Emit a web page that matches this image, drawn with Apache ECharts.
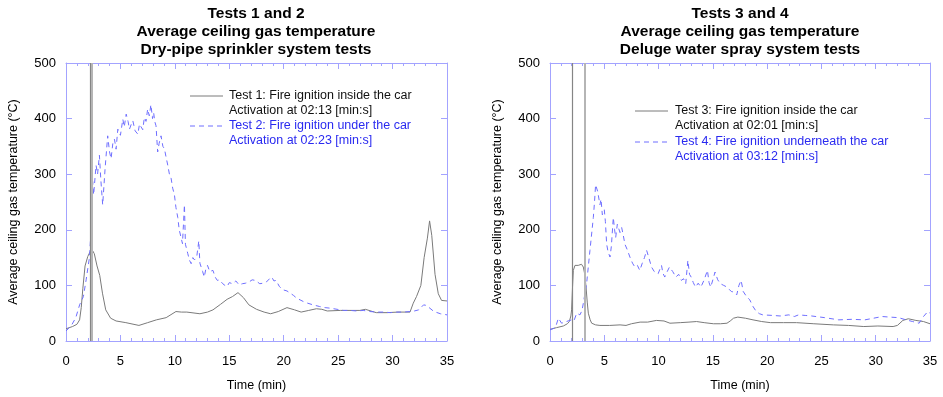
<!DOCTYPE html>
<html>
<head>
<meta charset="utf-8">
<script src="https://cdn.jsdelivr.net/npm/echarts@6/dist/echarts.min.js"></script>
<style>
  html, body { margin: 0; padding: 0; background: #fff; }
  #chart { width: 943px; height: 397px; }
</style>
</head>
<body>
<div id="chart"></div>
<script>
// time (min) / temperature (°C)
var test1 = [[0,22],[0.6,26],[1.0,30],[1.25,38],[1.4,60],[1.55,95],[1.75,135],[2.0,152],[2.2,160],[2.4,164],
  [2.6,157],[2.85,135],[3.1,118],[3.35,86],[3.65,56],[4.1,41],[4.6,36],[5.5,33],[6.7,28],[7.5,33],
  [8.3,38],[9.2,42],[10.1,53],[10.6,52],[11.1,52],[12.3,49],[13.0,52],[13.5,56],[14.2,66],[14.8,75],
  [15.3,80],[15.8,87],[16.3,78],[16.8,65],[17.5,57],[18.2,52],[18.8,49],[19.5,53],[20.3,60],[21.0,56],
  [21.6,52],[22.3,55],[23.0,58],[23.5,57],[24.0,54],[25.2,55],[26.0,55],[27.0,55],[27.5,57],[28.5,51],
  [29.5,51],[30.5,52],[31.6,52],[31.9,68],[32.2,80],[32.6,100],[32.9,150],[33.2,185],[33.4,216],[33.6,190],
  [33.9,120],[34.2,85],[34.5,73],[35,72]];

var test2 = [[0,18],[0.5,28],[0.9,42],[1.25,65],[1.6,80],[1.85,110],[2.15,150],[2.35,215],[2.45,287],[2.54,263],
  [2.76,316],[2.9,300],[3.07,334],[3.2,290],[3.37,245],[3.59,310],[3.83,369],[4.0,340],[4.14,328],[4.3,355],
  [4.45,363],[4.6,345],[4.76,381],[5.0,370],[5.22,399],[5.35,385],[5.53,408],[5.7,395],[5.83,381],[6.0,390],
  [6.14,396],[6.35,378],[6.6,372],[6.75,390],[6.9,393],[7.05,380],[7.2,402],[7.35,395],[7.5,417],[7.65,405],
  [7.8,425],[7.95,400],[8.05,411],[8.15,395],[8.27,387],[8.42,340],[8.55,355],[8.73,369],[8.9,350],[9.04,346],
  [9.2,330],[9.35,316],[9.5,300],[9.65,293],[9.8,275],[9.96,263],[10.1,240],[10.27,222],[10.4,200],[10.57,186],
  [10.7,175],[10.88,245],[10.97,174],[11.19,157],[11.35,145],[11.5,139],[11.65,150],[11.8,146],[12.0,150],[12.2,180],
  [12.3,140],[12.4,139],[12.55,125],[12.7,115],[12.85,130],[13.0,136],[13.2,125],[13.5,127],[13.7,115],[13.9,109],
  [14.1,110],[14.4,103],[14.6,100],[14.8,98],[15.0,105],[15.3,103],[15.6,108],[15.9,101],[16.2,103],[16.5,104],
  [16.8,106],[17.1,110],[17.4,109],[17.8,103],[18.1,104],[18.4,106],[18.7,112],[18.9,115],[19.1,108],[19.3,109],
  [19.6,98],[19.95,92],[20.3,90],[20.6,86],[20.9,82],[21.2,77],[21.5,74],[21.8,71],[22.2,68],[22.7,65],
  [23.3,62],[23.8,60],[24.3,59],[24.9,57],[25.5,55],[26.1,55],[26.7,54],[27.3,55],[27.9,53],[28.6,52],
  [29.2,52],[29.8,51],[30.4,52],[31.0,52],[31.6,53],[32.0,54],[32.4,56],[32.85,65],[33.1,64],[33.3,61],
  [33.8,53],[34.4,49],[35,47]];

var test3 = [[0,21],[0.6,24],[1.23,27],[1.6,31],[1.78,35],[1.92,45],[1.99,56],[2.07,95],[2.15,127],[2.3,136],
  [2.46,138],[2.6,136],[2.76,139],[2.9,138],[3.07,133],[3.2,120],[3.32,97],[3.43,70],[3.53,50],[3.7,38],
  [3.84,32],[4.2,29],[4.6,28],[5.5,28],[6.45,29],[7.0,28],[7.5,31],[8.3,34],[9.0,34],[9.8,37],
  [10.5,36],[11.05,32],[12.0,33],[12.8,34],[13.5,35],[14.2,33],[15.05,31],[15.7,31],[16.3,32],[16.6,36],
  [16.9,41],[17.3,43],[18.0,41],[18.7,38],[19.5,35],[20.3,33],[21.5,33],[22.7,33],[24.3,31],[26.1,29],
  [27.5,28],[28.9,26],[30.2,27],[31.6,26],[32.0,28],[32.5,37],[33.0,40],[33.7,37],[34.4,35],[35,31]];

var test4 = [[0,20],[0.5,24],[0.77,41],[1.07,32],[1.5,35],[2.0,38],[2.2,36],[2.46,50],[2.76,47],[2.95,55],
  [3.07,68],[3.37,103],[3.68,163],[3.99,222],[4.1,250],[4.2,281],[4.39,269],[4.6,245],[4.7,255],[4.82,227],
  [5.0,236],[5.1,215],[5.22,174],[5.35,160],[5.53,151],[5.65,170],[5.83,222],[5.95,200],[6.05,186],[6.2,210],
  [6.3,204],[6.45,195],[6.6,204],[6.75,190],[6.9,174],[7.1,165],[7.36,151],[7.6,140],[7.82,133],[8.05,136],
  [8.27,127],[8.5,140],[8.7,150],[8.9,163],[9.1,150],[9.35,133],[9.6,125],[9.96,121],[10.1,128],[10.27,136],
  [10.4,122],[10.57,115],[10.8,125],[11.0,133],[11.3,125],[11.6,115],[11.85,120],[12.1,109],[12.3,112],[12.5,103],
  [12.7,145],[12.85,120],[13.0,115],[13.2,105],[13.4,97],[13.65,104],[13.9,97],[14.2,110],[14.5,127],[14.65,105],
  [14.8,97],[15.0,110],[15.2,124],[15.45,110],[15.7,103],[16.0,100],[16.3,97],[16.5,93],[16.7,89],[16.95,88],
  [17.2,83],[17.4,100],[17.6,109],[17.8,89],[18.1,80],[18.4,74],[18.7,62],[19.0,53],[19.3,49],[19.6,47],
  [20.5,46],[21.2,45],[22.0,47],[22.5,44],[22.9,47],[23.5,46],[24.1,45],[25.3,42],[26.6,38],[27.8,39],
  [29.0,38],[29.8,41],[30.6,44],[31.3,43],[32.1,42],[32.8,38],[33.4,35],[34.0,32],[34.4,44],[34.8,53],[35,50]];

// sprinkler activation times (min)
var activationLeft = [2.217, 2.383];
var activationRight = [2.017, 3.2];

var xTicks = { min: 0, max: 35, interval: 5 };
var yTicks = { min: 0, max: 500, interval: 100 };

var FONT = '"Liberation Sans", Arial, sans-serif';
var FRAME = '#a3a3ff';
var GRAY = '#7a7a7a';
var BLUE_LINE = '#6e6eff';
var BLUE_TEXT = '#2a2af0';

var chart = echarts.init(document.getElementById('chart'));

function xAxisFor(gridIndex, top) {
  return {
    type: 'value', gridIndex: gridIndex, position: top ? 'top' : 'bottom',
    min: xTicks.min, max: xTicks.max, interval: xTicks.interval,
    name: top ? '' : 'Time (min)', nameLocation: 'middle', nameGap: 38,
    nameTextStyle: { fontFamily: FONT, fontSize: 12.5, color: '#000' },
    axisLine: { show: true, onZero: false, lineStyle: { color: FRAME, width: 1 } },
    axisTick: { show: true, inside: true, length: 6, lineStyle: { color: FRAME } },
    minorTick: { show: true, splitNumber: 5, length: 3, lineStyle: { color: FRAME } },
    axisLabel: { show: !top, margin: 14, fontFamily: FONT, fontSize: 13, color: '#000' },
    splitLine: { show: false }
  };
}

function yAxisFor(gridIndex, right) {
  return {
    type: 'value', gridIndex: gridIndex, position: right ? 'right' : 'left',
    min: yTicks.min, max: yTicks.max, interval: yTicks.interval,
    name: right ? '' : 'Average ceiling gas temperature (°C)', nameLocation: 'middle', nameGap: 46,
    nameTextStyle: { fontFamily: FONT, fontSize: 12.5, color: '#000' },
    axisLine: { show: true, onZero: false, lineStyle: { color: FRAME, width: 1 } },
    axisTick: { show: true, inside: true, length: 6, lineStyle: { color: FRAME } },
    axisLabel: { show: !right, margin: 10, fontFamily: FONT, fontSize: 13, color: '#000' },
    splitLine: { show: false }
  };
}

function activationLines(times) {
  return {
    silent: true, symbol: 'none', label: { show: false },
    data: [
      { xAxis: times[0], lineStyle: { color: '#858585', width: 1.2, type: 'solid' } },
      { xAxis: times[1], lineStyle: { color: '#b5b5b5', width: 2, type: 'solid' } }
    ]
  };
}

var titleStyle = { fontFamily: FONT, fontSize: 15.5, fontWeight: 'bold', lineHeight: 18, color: '#000' };

var option = {
  animation: false,
  title: [
    { text: 'Tests 1 and 2\nAverage ceiling gas temperature\nDry-pipe sprinkler system tests',
      left: 256, top: 5, padding: 0, textAlign: 'center', textStyle: titleStyle },
    { text: 'Tests 3 and 4\nAverage ceiling gas temperature\nDeluge water spray system tests',
      left: 740, top: 5, padding: 0, textAlign: 'center', textStyle: titleStyle }
  ],
  grid: [
    { left: 66, right: 496, top: 63, bottom: 52 },
    { left: 550, right: 13, top: 63, bottom: 52 }
  ],
  xAxis: [xAxisFor(0, false), xAxisFor(0, true), xAxisFor(1, false), xAxisFor(1, true)],
  yAxis: [yAxisFor(0, false), yAxisFor(0, true), yAxisFor(1, false), yAxisFor(1, true)],
  series: [
    { name: 'Test 1', type: 'line', xAxisIndex: 0, yAxisIndex: 0, data: test1, showSymbol: false,
      lineStyle: { color: GRAY, width: 1 }, markLine: activationLines(activationLeft) },
    { name: 'Test 2', type: 'line', xAxisIndex: 0, yAxisIndex: 0, data: test2, showSymbol: false,
      lineStyle: { color: BLUE_LINE, width: 1, type: [5, 4] } },
    { name: 'Test 3', type: 'line', xAxisIndex: 2, yAxisIndex: 2, data: test3, showSymbol: false,
      lineStyle: { color: GRAY, width: 1 }, markLine: activationLines(activationRight) },
    { name: 'Test 4', type: 'line', xAxisIndex: 2, yAxisIndex: 2, data: test4, showSymbol: false,
      lineStyle: { color: BLUE_LINE, width: 1, type: [5, 4] } }
  ],
  graphic: [
    // left legend
    { type: 'line', shape: { x1: 190, y1: 96, x2: 223, y2: 96 }, style: { stroke: GRAY, lineWidth: 1 } },
    { type: 'text', x: 229, y: 88.5, style: { text: 'Test 1: Fire ignition inside the car\nActivation at 02:13 [min:s]',
      fill: '#111', font: '12.5px ' + FONT, lineHeight: 15, verticalAlign: 'top' } },
    { type: 'line', shape: { x1: 190, y1: 126, x2: 223, y2: 126 }, style: { stroke: BLUE_LINE, lineWidth: 1, lineDash: [5, 4] } },
    { type: 'text', x: 229, y: 118.5, style: { text: 'Test 2: Fire ignition under the car\nActivation at 02:23 [min:s]',
      fill: BLUE_TEXT, font: '12.5px ' + FONT, lineHeight: 15, verticalAlign: 'top' } },
    // right legend
    { type: 'line', shape: { x1: 635, y1: 111, x2: 668, y2: 111 }, style: { stroke: GRAY, lineWidth: 1 } },
    { type: 'text', x: 675, y: 103.5, style: { text: 'Test 3: Fire ignition inside the car\nActivation at 02:01 [min:s]',
      fill: '#111', font: '12.5px ' + FONT, lineHeight: 15, verticalAlign: 'top' } },
    { type: 'line', shape: { x1: 635, y1: 142, x2: 668, y2: 142 }, style: { stroke: BLUE_LINE, lineWidth: 1, lineDash: [5, 4] } },
    { type: 'text', x: 675, y: 134.5, style: { text: 'Test 4: Fire ignition underneath the car\nActivation at 03:12 [min:s]',
      fill: BLUE_TEXT, font: '12.5px ' + FONT, lineHeight: 15, verticalAlign: 'top' } }
  ]
};

chart.setOption(option);
</script>
</body>
</html>
